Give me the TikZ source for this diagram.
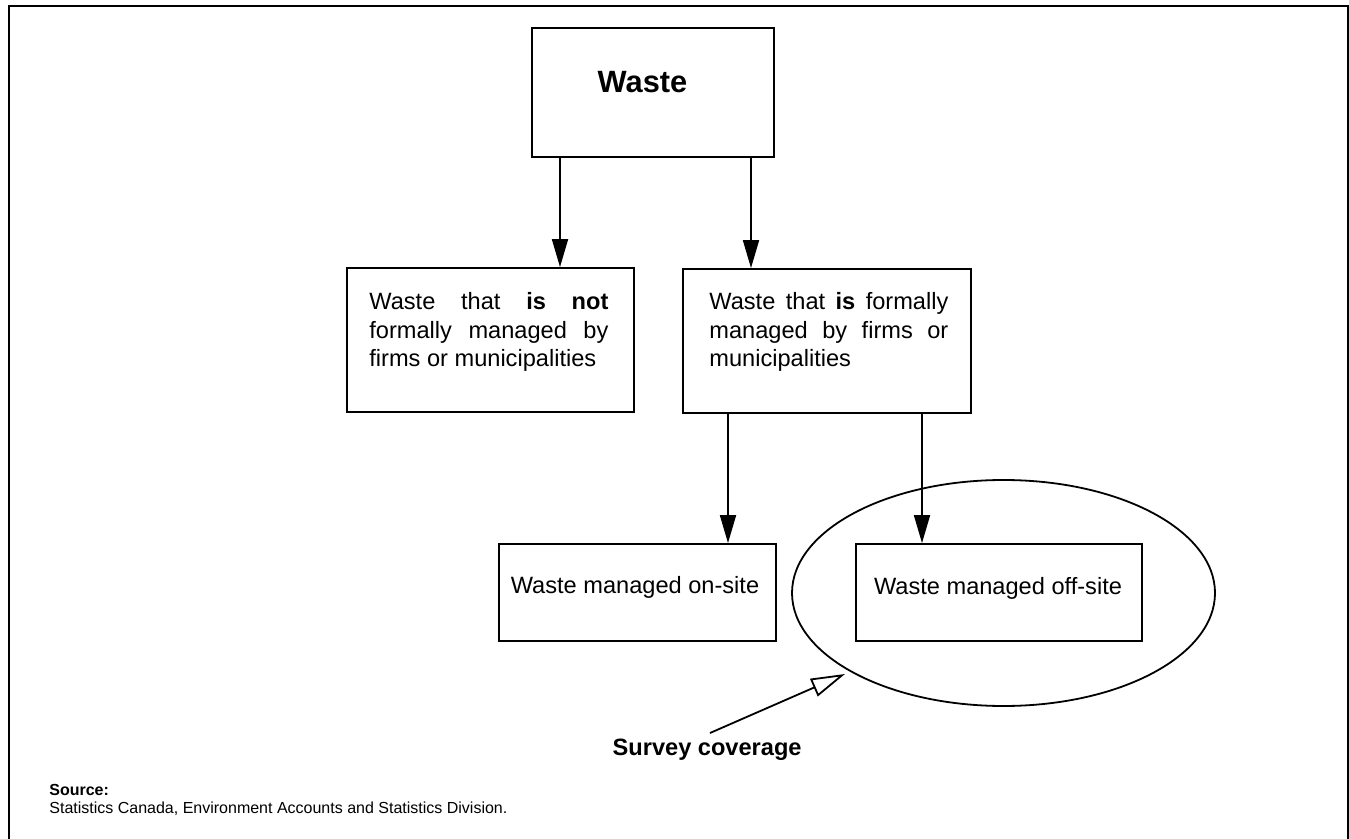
\documentclass[tikz,border=0pt]{standalone}
\usepackage{fontspec}
\setmainfont{Liberation Sans}
\usetikzlibrary{arrows.meta,shapes.geometric}
\tikzset{
  boxnode/.style={draw, line width=0.9pt, inner sep=0pt, minimum width=#1},
  txtnode/.style={inner sep=0pt, text width=119.5pt, align=justify, font=\fontsize{11.8pt}{14.25pt}\selectfont},
  plaintxt/.style={inner sep=0pt, font=\fontsize{11.8pt}{14.25pt}\selectfont},
  arr/.style={line width=0.9pt, -{Triangle[length=14pt, width=8pt]}},
  openarr/.style={line width=0.9pt, -{Triangle[open, length=17pt, width=9.5pt, fill=white]}},
  frameline/.style={line width=1pt}
}
\begin{document}
\begin{tikzpicture}[x=0.5pt, y=-0.5pt]
\useasboundingbox (0,0) rectangle (1349,839);
\clip (0,0) rectangle (1349,839);
\fill[white] (0,0) rectangle (1349,839);
\draw[frameline] (9,6) rectangle (1348,900);

% boxes
\node[boxnode=121pt, minimum height=64.5pt] (W) at (653,92.5) {};
\node[inner sep=0pt, anchor=base, font=\bfseries\fontsize{15.4pt}{18pt}\selectfont] (Wt) at (642.5,93) {Waste};

\node[boxnode=143.5pt, minimum height=72pt] (L1) at (490.5,340) {};
\node[txtnode, anchor=base west] (L1t) at (369,310) {Waste that \textbf{is not} formally managed by firms or municipalities};

\node[boxnode=144pt, minimum height=72pt] (R1) at (827,341) {};
\node[txtnode, anchor=base west] (R1t) at (709,310) {Waste that \textbf{is} formally managed by firms or municipalities};

\node[boxnode=138.5pt, minimum height=48.5pt] (ON) at (637.5,592.5) {};
\node[plaintxt, anchor=base] (ONt) at (635,593) {Waste managed on-site};

\node[boxnode=143pt, minimum height=48.5pt] (OFF) at (999,592.5) {};
\node[plaintxt, anchor=base] (OFFt) at (998,594) {Waste managed off-site};

\node[draw, ellipse, line width=0.9pt, inner sep=0pt, minimum width=211.5pt, minimum height=113pt] (cov) at (1003.5,593) {};

% connectors
\coordinate (a1) at (560,0);
\coordinate (a2) at (751,0);
\coordinate (a3) at (728,0);
\coordinate (a4) at (922,0);
\draw[arr] (W.south -| a1) -- (L1.north -| a1);
\draw[arr] (W.south -| a2) -- (R1.north -| a2);
\draw[arr] (R1.south -| a3) -- (ON.north -| a3);
\draw[arr] (R1.south -| a4) -- (OFF.north -| a4);

\node[inner sep=0pt, anchor=base east, font=\bfseries\fontsize{11.8pt}{14pt}\selectfont] (sv) at (802,755) {Survey coverage};
\coordinate (sc) at (710,733);
\coordinate (tip) at (845,674);
\draw[openarr] (sc) -- (tip);

% source
\node[inner sep=0pt, anchor=base west, font=\bfseries\fontsize{8pt}{9pt}\selectfont] (src) at (49,795) {Source:};
\node[inner sep=0pt, anchor=base west, font=\fontsize{8pt}{9pt}\selectfont] (srct) at (49,813) {Statistics Canada, Environment Accounts and Statistics Division.};
\end{tikzpicture}
\end{document}
